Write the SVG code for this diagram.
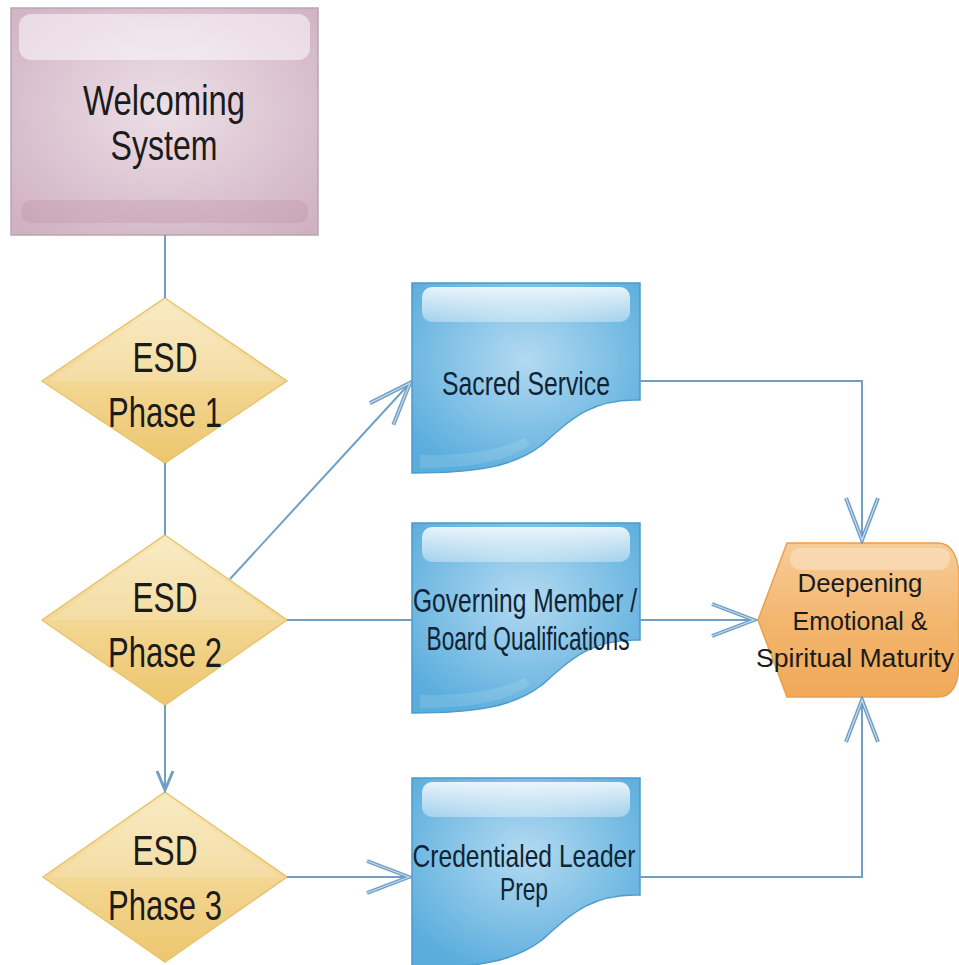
<svg xmlns="http://www.w3.org/2000/svg" width="959" height="965" viewBox="0 0 959 965">
<defs>
<style>
.t{font-family:"Liberation Sans",Arial,sans-serif;fill:#1b1b1b;text-anchor:middle}
.td{font-family:"Liberation Sans",Arial,sans-serif;fill:#0f2434;text-anchor:middle}
.c{fill:none;stroke:#6f9fc6;stroke-width:2}
.dia{fill:url(#gold);stroke:#e7c46e;stroke-width:1.5}
.doc{fill:url(#blue);stroke:#4a9bcd;stroke-width:1.5}
.hl{fill:url(#shine)}
</style>
<radialGradient id="pink" cx="50%" cy="45%" r="70%">
<stop offset="0" stop-color="#ecdfe6"/><stop offset="1" stop-color="#d0b1c2"/>
</radialGradient>
<linearGradient id="gold" x1="0" y1="0" x2="0" y2="1">
<stop offset="0" stop-color="#f8e8bc"/><stop offset="0.45" stop-color="#f4d998"/><stop offset="1" stop-color="#edc66e"/>
</linearGradient>
<radialGradient id="blue" cx="50%" cy="40%" r="65%">
<stop offset="0" stop-color="#b3daf1"/><stop offset="1" stop-color="#5aaddd"/>
</radialGradient>
<linearGradient id="orange" x1="0" y1="0" x2="0" y2="1">
<stop offset="0" stop-color="#f7cc98"/><stop offset="0.5" stop-color="#f3b66f"/><stop offset="1" stop-color="#f0a958"/>
</linearGradient>
<linearGradient id="shine" x1="0" y1="0" x2="0" y2="1">
<stop offset="0" stop-color="#ffffff" stop-opacity="0.85"/><stop offset="1" stop-color="#ffffff" stop-opacity="0.35"/>
</linearGradient>
<marker id="big" markerUnits="userSpaceOnUse" viewBox="-46 -22 50 44" markerWidth="50" markerHeight="44" refX="0" refY="0" orient="auto">
<path d="M-42,-16 L0,0 L-42,16" fill="none" stroke="#6f9fc6" stroke-width="4" stroke-linejoin="miter"/>
<path d="M-42,-16 L0,0 L-42,16" fill="none" stroke="#c4dcec" stroke-width="1.2"/>
</marker>
<marker id="small" markerUnits="userSpaceOnUse" viewBox="-22 -11 26 22" markerWidth="26" markerHeight="22" refX="0" refY="0" orient="auto">
<path d="M-19,-8 L0,0 L-19,8" fill="none" stroke="#6f9fc6" stroke-width="3"/>
</marker>
</defs>

<g id="welcoming">
<rect x="11" y="8" width="307" height="227" fill="url(#pink)" stroke="#baa5b1" stroke-width="1.5"/>
<rect x="19" y="14" width="291" height="46" rx="12" fill="#ffffff" fill-opacity="0.5"/>
<rect x="21" y="200" width="287" height="23" rx="10" fill="#b890a6" fill-opacity="0.3"/>
<text class="t" font-size="42" x="164" y="115" textLength="162" lengthAdjust="spacingAndGlyphs">Welcoming</text>
<text class="t" font-size="42" x="164" y="160" textLength="107" lengthAdjust="spacingAndGlyphs">System</text>
</g>

<g id="phase1">
<polygon class="dia" points="165,298 287,381 165,463 42,381"/>
<polygon points="165,302 281,381 49,381" fill="#ffffff" fill-opacity="0.15"/>
<text class="t" font-size="42" x="165" y="372" textLength="65" lengthAdjust="spacingAndGlyphs">ESD</text>
<text class="t" font-size="42" x="165" y="427" textLength="114" lengthAdjust="spacingAndGlyphs">Phase 1</text>
</g>

<g id="phase2">
<polygon class="dia" points="165,535 287,620 165,705 42,620"/>
<polygon points="165,539 281,620 49,620" fill="#ffffff" fill-opacity="0.15"/>
<text class="t" font-size="42" x="165" y="612" textLength="65" lengthAdjust="spacingAndGlyphs">ESD</text>
<text class="t" font-size="42" x="165" y="667" textLength="114" lengthAdjust="spacingAndGlyphs">Phase 2</text>
</g>

<g id="phase3">
<polygon class="dia" points="165,792 287,877 165,962 43,877"/>
<polygon points="165,796 281,877 50,877" fill="#ffffff" fill-opacity="0.15"/>
<text class="t" font-size="42" x="165" y="865" textLength="65" lengthAdjust="spacingAndGlyphs">ESD</text>
<text class="t" font-size="42" x="165" y="920" textLength="114" lengthAdjust="spacingAndGlyphs">Phase 3</text>
</g>

<g id="sacred">
<path class="doc" d="M412,283 H640 V400 C592,398 570,420 542,445 C512,468 472,473 412,473 Z"/>
<rect class="hl" x="422" y="287" width="208" height="35" rx="10"/>
<path d="M420,455 C470,455 500,450 525,438 L530,445 C505,462 470,468 420,468 Z" fill="#ffffff" fill-opacity="0.12"/>
<text class="td" font-size="34" x="526" y="395" textLength="168" lengthAdjust="spacingAndGlyphs">Sacred Service</text>
</g>

<g id="governing">
<path class="doc" d="M412,523 H640 V640 C592,638 570,660 542,685 C512,708 472,713 412,713 Z"/>
<rect class="hl" x="422" y="527" width="208" height="35" rx="10"/>
<path d="M420,695 C470,695 500,690 525,678 L530,685 C505,702 470,708 420,708 Z" fill="#ffffff" fill-opacity="0.12"/>
<text class="td" font-size="34" x="525" y="612" textLength="224" lengthAdjust="spacingAndGlyphs">Governing Member /</text>
<text class="td" font-size="34" x="528" y="650" textLength="203" lengthAdjust="spacingAndGlyphs">Board Qualifications</text>
</g>

<g id="credentialed">
<path class="doc" d="M412,778 H640 V895 C592,893 570,915 542,940 C512,963 472,968 412,968 Z"/>
<rect class="hl" x="422" y="782" width="208" height="35" rx="10"/>
<text class="td" font-size="32" x="524" y="867" textLength="223" lengthAdjust="spacingAndGlyphs">Credentialed Leader</text>
<text class="td" font-size="32" x="524" y="900" textLength="48" lengthAdjust="spacingAndGlyphs">Prep</text>
</g>

<g id="deepening">
<path d="M758,620 L787,543 H938 C952,543 959,558 959,578 V664 C959,684 952,697 938,697 H787 Z" fill="url(#orange)" stroke="#e9a04e" stroke-width="1.5"/>
<rect x="790" y="548" width="160" height="22" rx="10" fill="#ffffff" fill-opacity="0.3"/>
<text class="t" font-size="26" x="860" y="592" textLength="125" lengthAdjust="spacingAndGlyphs">Deepening</text>
<text class="t" font-size="26" x="860" y="630" textLength="135" lengthAdjust="spacingAndGlyphs">Emotional &amp;</text>
<text class="t" font-size="26" x="855" y="667" textLength="198" lengthAdjust="spacingAndGlyphs">Spiritual Maturity</text>
</g>

<g id="connectors">
<path class="c" d="M165,235 V298"/>
<path class="c" d="M165,463 V535"/>
<path class="c" d="M165,705 V790" marker-end="url(#small)"/>
<path class="c" d="M230,579 L410,383" marker-end="url(#big)"/>
<path class="c" d="M287,620 H412"/>
<path class="c" d="M640,620 H754" marker-end="url(#big)"/>
<path class="c" d="M640,381 H862 V540" marker-end="url(#big)"/>
<path class="c" d="M640,877 H862 V700" marker-end="url(#big)"/>
<path class="c" d="M287,877 H409" marker-end="url(#big)"/>
</g>
</svg>
